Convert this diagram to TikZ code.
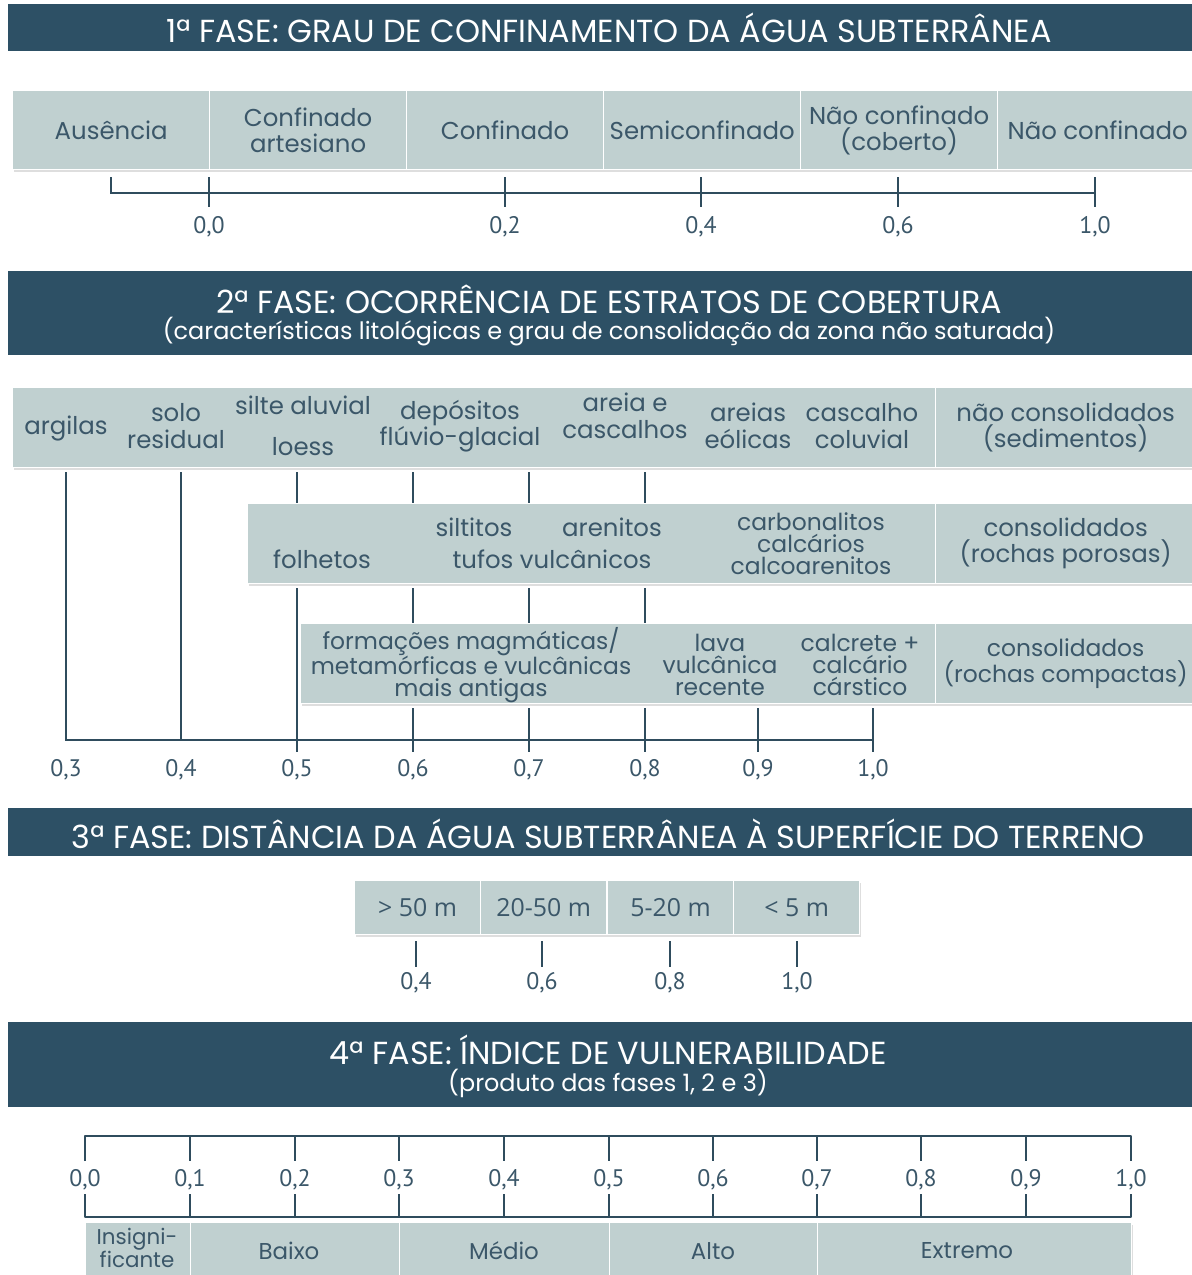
\documentclass[tikz,border=0pt]{standalone}
\usepackage{fontspec}
\setmainfont{Poppins}
\newfontfamily\numfont{PT Sans}
\newfontfamily\distfont{Open Sans}
\usetikzlibrary{shadows}
\definecolor{bannerc}{HTML}{2D5065}
\definecolor{cellc}{HTML}{C0D0D0}
\definecolor{txtc}{HTML}{3B5769}
\definecolor{linec}{HTML}{2F4C5D}
\newcommand\lblfont{\fontsize{24.5}{26.5}\selectfont}
\newcommand\tightfont{\fontsize{23.5}{22}\selectfont}
\tikzset{
  banner/.style={fill=bannerc, draw=none, anchor=north west, inner sep=0pt},
  htitle/.style={text=white, font=\fontsize{32}{36}\selectfont, inner sep=0pt},
  hsub/.style={text=white, font=\fontsize{24}{28}\selectfont, inner sep=0pt},
  cell/.style={fill=cellc, draw=white, line width=1.3bp, anchor=north west, inner sep=0pt,
    text=txtc, align=center, font=\lblfont},
  rowbox/.style={cell, drop shadow={shadow xshift=1.5bp, shadow yshift=-2.5bp, opacity=0.18, fill=black!70}},
  lbl/.style={text=txtc, align=center, font=\lblfont, inner sep=0pt},
  num/.style={text=txtc, font=\numfont\fontsize{24}{26}\selectfont, inner sep=0pt},
  axis/.style={draw=linec, line width=2.2bp},
}
\begin{document}
\begin{tikzpicture}[x=1bp,y=-1bp]
\clip (0,0) rectangle (1192,1275);
\fill[white] (0,0) rectangle (1192,1275);

% ===== Phase 1 =====
\node[banner, minimum width=1200bp, minimum height=47bp] (b1) at (8,4) {};
\node[htitle] (b1t) at (609,28) {1ª FASE: GRAU DE CONFINAMENTO DA ÁGUA SUBTERRÂNEA};

\node[rowbox, minimum width=1182bp, minimum height=79bp] (p1row) at (12,90) {};
\node[cell, minimum width=197bp, minimum height=79bp] (p1a) at (12,90) {Ausência};
\node[cell, minimum width=197bp, minimum height=79bp] (p1b) at (209,90) {Confinado\\artesiano};
\node[cell, minimum width=197bp, minimum height=79bp] (p1c) at (406,90) {Confinado};
\node[cell, minimum width=197bp, minimum height=79bp] (p1d) at (603,90) {Semiconfinado};
\node[cell, minimum width=197bp, minimum height=79bp] (p1e) at (800,90) {Não confinado\\(coberto)};
\node[cell, minimum width=200bp, minimum height=79bp] (p1f) at (997,90) {Não confinado};

\coordinate (a1s) at (111,177);
\coordinate (a1c) at (111,193);
\coordinate (a1e) at (1095,193);
\draw[axis] (a1s) -- (a1c) -- (a1e);
\foreach \x/\t [count=\i] in {209/0{,}0, 505/0{,}2, 701/0{,}4, 898/0{,}6, 1095/1{,}0}{
  \coordinate (t1u\i) at (\x,177);
  \coordinate (t1d\i) at (\x,207);
  \draw[axis] (t1u\i) -- (t1d\i);
  \node[num] (n1\i) at (\x,227) {\t};
}

% ===== Phase 2 =====
\node[banner, minimum width=1200bp, minimum height=84bp] (b2) at (8,271) {};
\node[htitle] (b2t) at (609,299) {2ª FASE: OCORRÊNCIA DE ESTRATOS DE COBERTURA};
\node[hsub] (b2s) at (609,332) {(características litológicas e grau de consolidação da zona não saturada)};

% rows
\node[rowbox, minimum width=1182bp, minimum height=80bp] (r2ash) at (12,387) {};
\node[cell, minimum width=923bp, minimum height=80bp] (r2a) at (12,387) {};
\node[cell, minimum width=260bp, minimum height=80bp] (r2ax) at (935,387) {não consolidados\\(sedimentos)};

\node[rowbox, minimum width=947bp, minimum height=80bp] (r2bsh) at (247,503) {};
\node[cell, minimum width=688bp, minimum height=80bp] (r2b) at (247,503) {};
\node[cell, minimum width=260bp, minimum height=80bp] (r2bx) at (935,503) {consolidados\\(rochas porosas)};

\node[rowbox, minimum width=894bp, minimum height=80bp] (r2csh) at (300,623) {};
\node[cell, minimum width=635bp, minimum height=80bp] (r2c) at (300,623) {};
\node[cell, minimum width=260bp, minimum height=80bp, font=\fontsize{23.5}{26.5}\selectfont] (r2cx) at (935,623) {consolidados\\(rochas compactas)};

% row A labels
\node[lbl] (argilas) at (66,428) {argilas};
\node[lbl] (solo) at (176,426) {solo\\residual};
\node[lbl] (silte) at (303,405) {silte aluvial};
\node[lbl] (loess) at (303,447) {loess};
\node[lbl] (depos) at (460,426) {depósitos\\flúvio-glacial};
\node[lbl] (areia) at (625,416) {areia e\\cascalhos};
\node[lbl] (eolic) at (748,426) {areias\\eólicas};
\node[lbl] (cascal) at (862,426) {cascalho\\coluvial};
% row B labels
\node[lbl] (folh) at (322,559) {folhetos};
\node[lbl] (silt) at (474,527) {siltitos};
\node[lbl] (aren) at (612,527) {arenitos};
\node[lbl] (tufos) at (552,559) {tufos vulcânicos};
\node[lbl, font=\tightfont] (carb) at (811,544) {carbonalitos\\calcários\\calcoarenitos};
% row C labels
\node[lbl, font=\tightfont] (form) at (471,665) {formações magmáticas/\\metamórficas e vulcânicas\\mais antigas};
\node[lbl, font=\tightfont] (lava) at (720,665) {lava\\vulcânica\\recente};
\node[lbl, font=\tightfont] (calc) at (860,665) {calcrete +\\calcário\\cárstico};

% vertical guide lines
\coordinate (g3a) at (66,472);
\coordinate (g3b) at (66,740);
\coordinate (g10) at (873,740);
\draw[axis] (g3a) -- (g3b) -- (g10);
\coordinate (g4a) at (181,472);
\coordinate (g4b) at (181,740);
\draw[axis] (g4a) -- (g4b);
\coordinate (g5a) at (297,472);
\coordinate (g5b) at (297,503);
\coordinate (g5c) at (297,588);
\coordinate (g5d) at (297,752);
\draw[axis] (g5a) -- (g5b);
\draw[axis] (g5c) -- (g5d);
\foreach \x/\n in {413/6, 529/7, 645/8}{
  \coordinate (g\n a) at (\x,472);
  \coordinate (g\n b) at (\x,503);
  \coordinate (g\n c) at (\x,588);
  \coordinate (g\n d) at (\x,623);
  \coordinate (g\n e) at (\x,708);
  \coordinate (g\n f) at (\x,752);
  \draw[axis] (g\n a) -- (g\n b);
  \draw[axis] (g\n c) -- (g\n d);
  \draw[axis] (g\n e) -- (g\n f);
}
\foreach \x/\n in {758/9, 873/10}{
  \coordinate (h\n a) at (\x,708);
  \coordinate (h\n b) at (\x,752);
  \draw[axis] (h\n a) -- (h\n b);
}
\foreach \x/\t [count=\i] in {66/0{,}3, 181/0{,}4, 297/0{,}5, 413/0{,}6, 529/0{,}7, 645/0{,}8, 758/0{,}9, 873/1{,}0}{
  \node[num] (n2\i) at (\x,770) {\t};
}

% ===== Phase 3 =====
\node[banner, minimum width=1200bp, minimum height=48bp] (b3) at (8,808) {};
\node[htitle] (b3t) at (608,834) {3ª FASE: DISTÂNCIA DA ÁGUA SUBTERRÂNEA À SUPERFÍCIE DO TERRENO};

\node[rowbox, minimum width=505bp, minimum height=54bp] (p3row) at (354,880) {};
\foreach \x/\t [count=\i] in {354/{> 50 m}, 480/{20-50 m}, 607/{5-20 m}, 733/{< 5 m}}{
  \node[cell, minimum width=126bp, minimum height=54bp, font=\distfont\fontsize{25}{28}\selectfont] (p3c\i) at (\x,880) {\t};
}
\foreach \x/\t [count=\i] in {416/0{,}4, 542/0{,}6, 670/0{,}8, 797/1{,}0}{
  \coordinate (t3u\i) at (\x,941);
  \coordinate (t3d\i) at (\x,967);
  \draw[axis] (t3u\i) -- (t3d\i);
  \node[num] (n3\i) at (\x,983) {\t};
}

% ===== Phase 4 =====
\node[banner, minimum width=1200bp, minimum height=85bp] (b4) at (8,1022) {};
\node[htitle] (b4t) at (608,1050) {4ª FASE: ÍNDICE DE VULNERABILIDADE};
\node[hsub] (b4s) at (608,1083) {(produto das fases 1, 2 e 3)};

\coordinate (s4a) at (85,1161);
\coordinate (s4b) at (85,1136);
\coordinate (s4c) at (1131,1136);
\coordinate (s4d) at (1131,1161);
\draw[axis, line join=round] (s4a) -- (s4b) -- (s4c) -- (s4d);
\coordinate (s4e) at (85,1194);
\coordinate (s4f) at (85,1217);
\coordinate (s4g) at (1131,1217);
\coordinate (s4h) at (1131,1194);
\draw[axis, line join=round] (s4e) -- (s4f) -- (s4g) -- (s4h);
\foreach \x/\t [count=\i] in {85/0{,}0, 190/0{,}1, 295/0{,}2, 399/0{,}3, 504/0{,}4, 609/0{,}5, 713/0{,}6, 817/0{,}7, 921/0{,}8, 1026/0{,}9, 1131/1{,}0}{
  \coordinate (t4u\i) at (\x,1136);
  \coordinate (t4m\i) at (\x,1161);
  \coordinate (t4n\i) at (\x,1194);
  \coordinate (t4d\i) at (\x,1217);
  \draw[axis] (t4u\i) -- (t4m\i);
  \draw[axis] (t4n\i) -- (t4d\i);
  \node[num] (n4\i) at (\x,1180) {\t};
}
\node[rowbox, minimum width=1046bp, minimum height=60bp] (p4row) at (85,1222) {};
\node[cell, minimum width=105bp, minimum height=60bp] (v1) at (85,1222) {};
\node[lbl, font=\fontsize{21.5}{21.5}\selectfont] (v1t) at (137,1248) {Insigni-\\ficante};
\node[cell, minimum width=209bp, minimum height=60bp] (v2) at (190,1222) {};
\node[lbl, font=\fontsize{23}{24}\selectfont] (v2t) at (289,1251) {Baixo};
\node[cell, minimum width=210bp, minimum height=60bp] (v3) at (399,1222) {};
\node[lbl, font=\fontsize{23}{24}\selectfont] (v3t) at (504,1251) {Médio};
\node[cell, minimum width=208bp, minimum height=60bp] (v4) at (609,1222) {};
\node[lbl, font=\fontsize{23}{24}\selectfont] (v4t) at (713,1251) {Alto};
\node[cell, minimum width=314bp, minimum height=60bp] (v5) at (817,1222) {};
\node[lbl, font=\fontsize{23}{24}\selectfont] (v5t) at (967,1251) {Extremo};
\end{tikzpicture}
\end{document}
